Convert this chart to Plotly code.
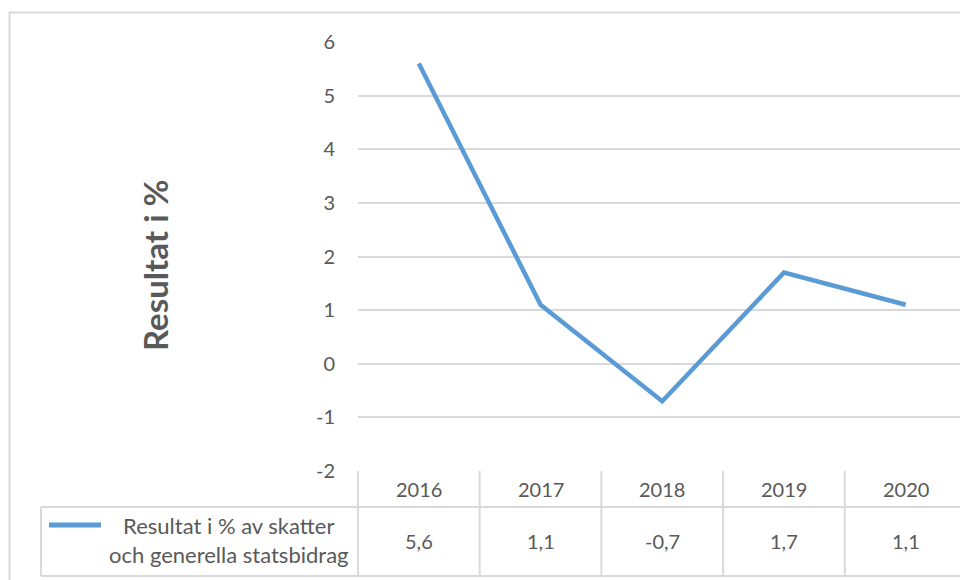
import plotly.graph_objects as go

years = ["2016", "2017", "2018", "2019", "2020"]
values = [5.6, 1.1, -0.7, 1.7, 1.1]
value_labels = ["5,6", "1,1", "-0,7", "1,7", "1,1"]
series_name = "Resultat i % av skatter<br>och generella statsbidrag"
y_title = "Resultat i %"
y_ticks = [-2, -1, 0, 1, 2, 3, 4, 5, 6]

FONT = "Lato, Carlito, Calibri, sans-serif"
TXT = "#595959"
GRID = "#D9D9D9"
BLUE = "#5B9BD5"

L, R, T, B = 358, 0, 42, 109
W, H = 960, 580
PW = W - L - R
PH = H - T - B
band = 121.7
xmax = -0.5 + PW / band

def px(xp):
    return (xp - L) / PW

def py(yp):
    return (H - B - yp) / PH

fig = go.Figure()
fig.add_trace(go.Scatter(
    x=list(range(len(years))), y=values, mode="lines",
    line=dict(color=BLUE, width=4.5), showlegend=False, hoverinfo="skip",
))

shapes = []
# outer chart border
shapes.append(dict(type="rect", xref="paper", yref="paper",
                   x0=px(9.5), x1=px(975), y0=py(12.5), y1=py(590),
                   line=dict(color=GRID, width=2), layer="below"))
# table horizontal lines
for yy, x0 in [(507, 41), (576, 41)]:
    shapes.append(dict(type="line", xref="paper", yref="paper",
                       x0=px(x0), x1=1.05, y0=py(yy), y1=py(yy),
                       line=dict(color=GRID, width=2)))
# vertical table lines
shapes.append(dict(type="line", xref="paper", yref="paper",
                   x0=px(41), x1=px(41), y0=py(507), y1=py(576),
                   line=dict(color=GRID, width=2)))
shapes.append(dict(type="line", xref="paper", yref="paper",
                   x0=0, x1=0, y0=0, y1=py(576),
                   line=dict(color=GRID, width=2)))
for i in range(len(years) - 1):
    shapes.append(dict(type="line", xref="x", yref="paper",
                       x0=i + 0.5, x1=i + 0.5, y0=0, y1=py(576),
                       line=dict(color=GRID, width=2)))
# legend key line
shapes.append(dict(type="line", xref="paper", yref="paper",
                   x0=px(49), x1=px(101), y0=py(525), y1=py(525),
                   line=dict(color=BLUE, width=5)))

annotations = []
for i, (yr, lab) in enumerate(zip(years, value_labels)):
    annotations.append(dict(x=i, y=py(489), xref="x", yref="paper", text=yr,
                            showarrow=False, font=dict(family=FONT, size=20, color=TXT),
                            xanchor="center", yanchor="middle"))
    annotations.append(dict(x=i, y=py(541), xref="x", yref="paper", text=lab,
                            showarrow=False, font=dict(family=FONT, size=20, color=TXT),
                            xanchor="center", yanchor="middle"))
annotations.append(dict(x=px(229), y=py(540), xref="paper", yref="paper",
                        text=series_name, showarrow=False, align="center",
                        font=dict(family=FONT, size=22, color=TXT),
                        xanchor="center", yanchor="middle"))
annotations.append(dict(x=px(155), y=py(265), xref="paper", yref="paper",
                        text="<b>" + y_title + "</b>", showarrow=False, textangle=-90,
                        font=dict(family=FONT, size=33, color=TXT),
                        xanchor="center", yanchor="middle"))

fig.update_layout(
    width=W, height=H,
    margin=dict(l=L, r=R, t=T, b=B, pad=0),
    paper_bgcolor="white", plot_bgcolor="white",
    shapes=shapes, annotations=annotations,
    xaxis=dict(type="linear", range=[-0.5, xmax], showticklabels=False,
               showgrid=False, zeroline=False, showline=False, fixedrange=True),
    yaxis=dict(range=[-2, 6], tickvals=y_ticks, ticktext=[str(v) for v in y_ticks],
               showgrid=True, gridcolor=GRID, gridwidth=1.5, zeroline=False,
               showline=False, ticklabelstandoff=22,
               tickfont=dict(family=FONT, size=20, color=TXT), fixedrange=True),
    font=dict(family=FONT, color=TXT),
)

fig.write_html("out.html", config={"displayModeBar": False},
               post_script="document.body.style.margin='0';document.body.style.overflow='hidden';")
